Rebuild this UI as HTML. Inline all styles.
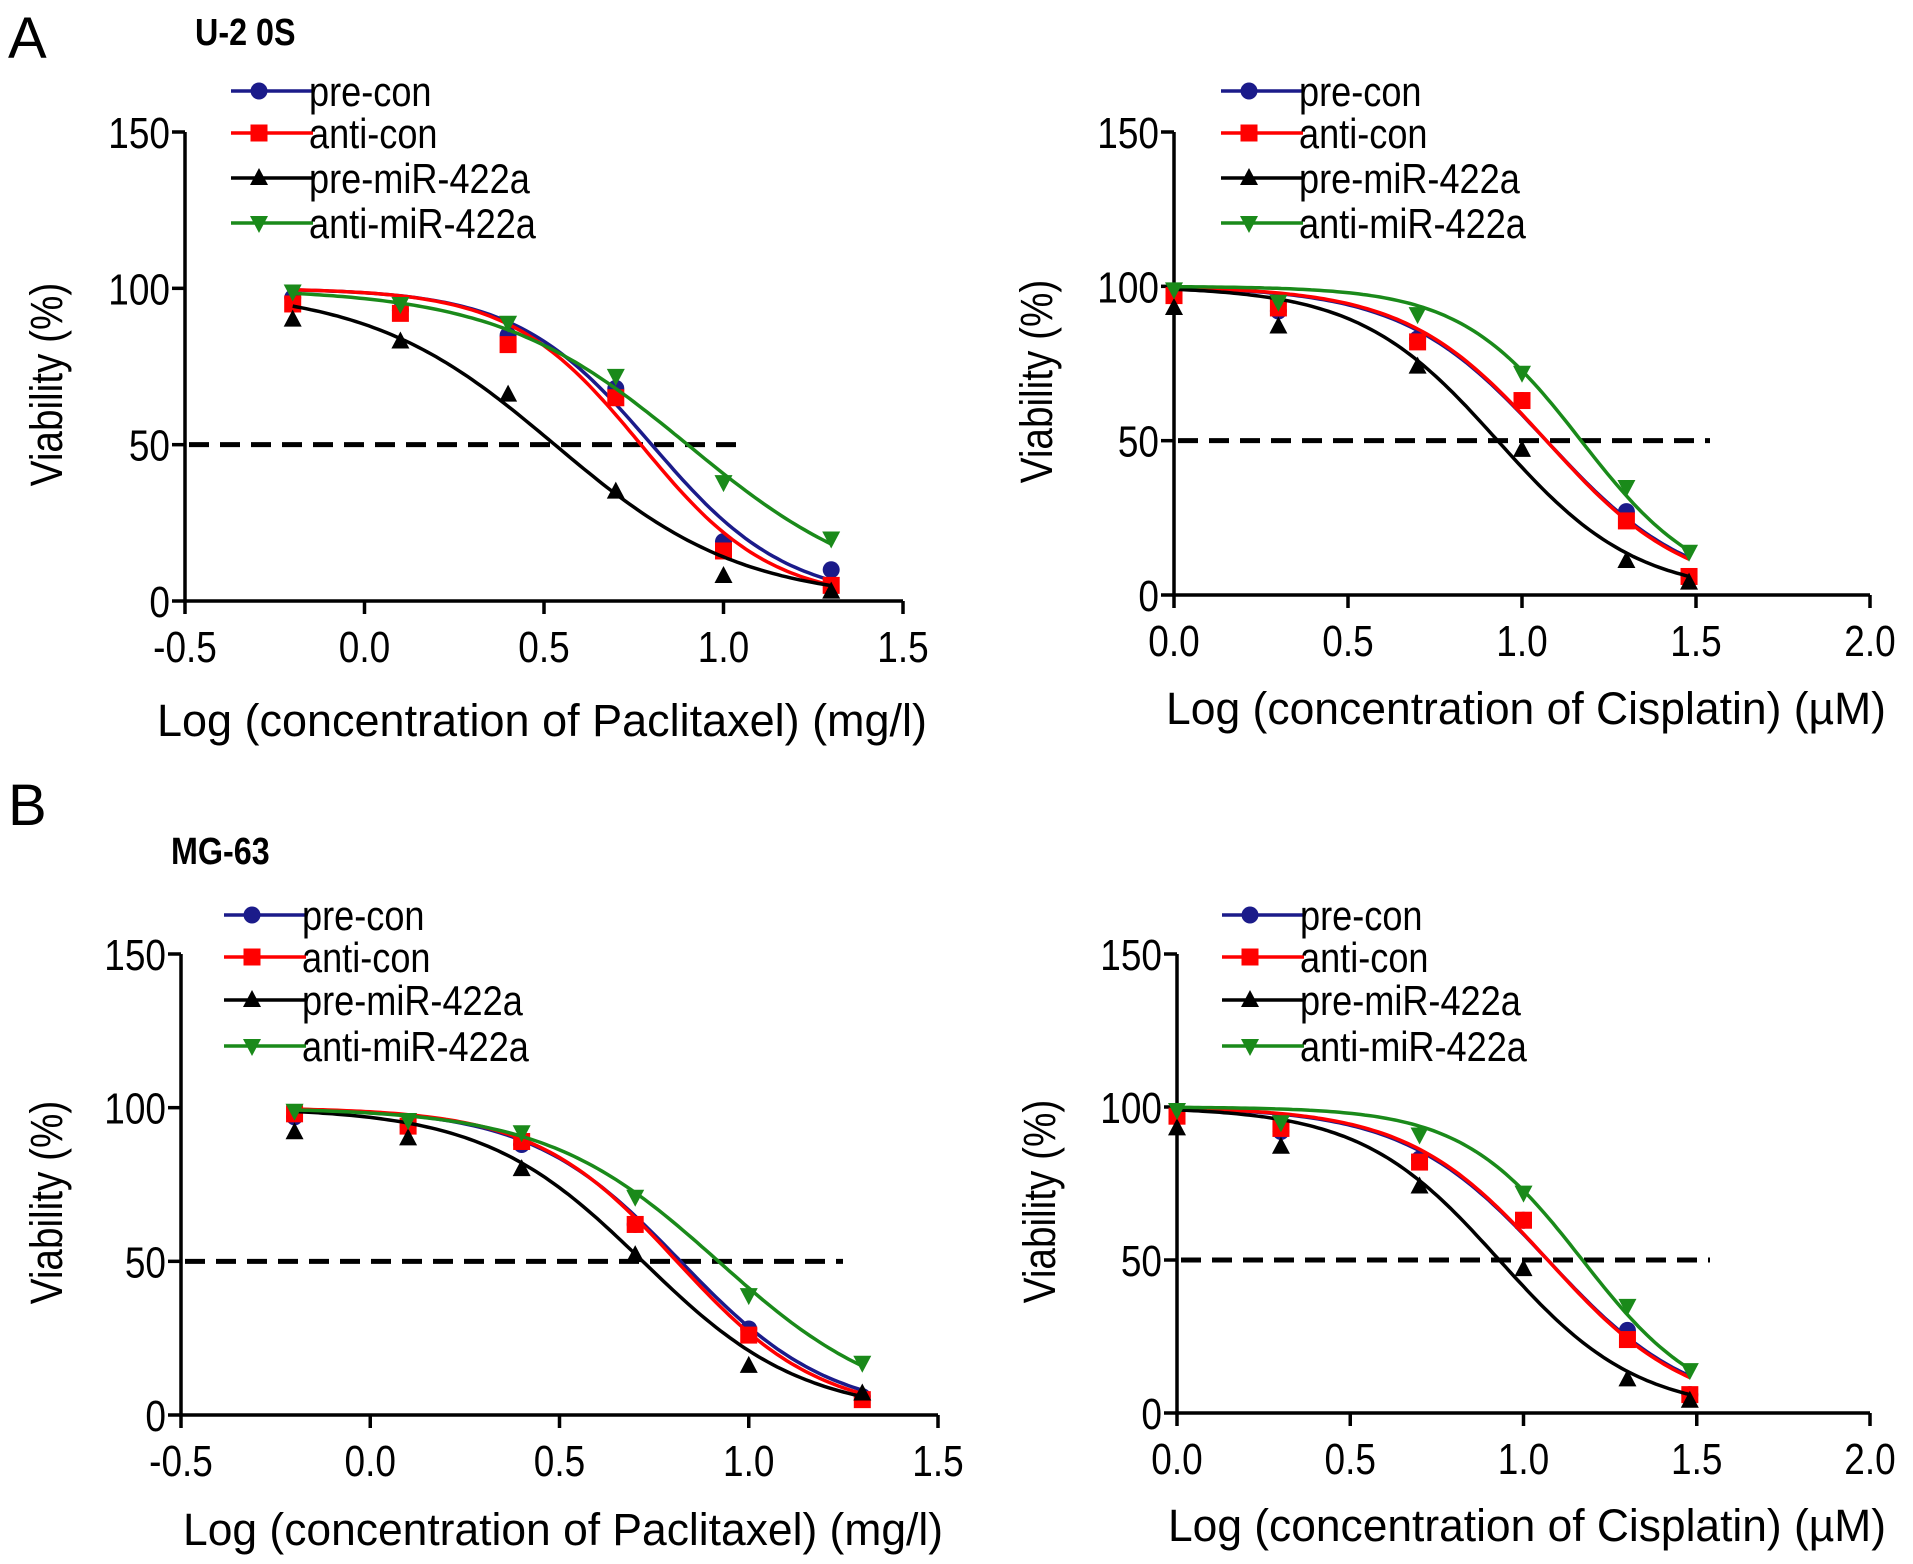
<!DOCTYPE html>
<html><head><meta charset="utf-8"><style>
html,body{margin:0;padding:0;background:#fff}
svg{display:block;font-family:"Liberation Sans",Arial,sans-serif}
</style></head><body>
<svg id="fig" width="1913" height="1564" viewBox="0 0 1913 1564">
<text x="8" y="58" font-size="58">A</text>
<text id="t1" x="195" y="45" font-size="38" font-weight="bold">U-2 0S</text>
<text x="8" y="825" font-size="58">B</text>
<text id="t2" x="171" y="864" font-size="38" font-weight="bold">MG-63</text>
</svg>
<script>
const seriesNames=["pre-con","anti-con","pre-miR-422a","anti-miR-422a"];
const ptxX=[-0.2,0.1,0.4,0.7,1.0,1.3];
const cisX=[0,0.3,0.7,1.0,1.3,1.48];
const yTicks=[0,50,100,150];
const ptxTicks=[-0.5,0.0,0.5,1.0,1.5];
const cisTicks=[0.0,0.5,1.0,1.5,2.0];
// U-2OS paclitaxel
const a1PreCon=[97,93,85,68,19,10];
const a1AntiCon=[95,92,82,65,16,5];
const a1PreMiR=[90,83,66,35,8,3];
const a1AntiMiR=[99,95,89,72,38,20];
const a1LogIC50=[0.80,0.77,0.53,0.90];
const a1Hill=[2.3,2.4,1.67,1.63];
// U-2OS cisplatin
const a2PreCon=[97,92,83,63,27,6];
const a2AntiCon=[97,93,82,63,24,6];
const a2PreMiR=[93,87,74,47,11,4];
const a2AntiMiR=[99,95,91,72,35,14];
const a2LogIC50=[1.07,1.07,0.93,1.17];
const a2Hill=[2.1,2.15,2.17,2.5];
// MG-63 paclitaxel
const b1PreCon=[97,94,88,62,28,6];
const b1AntiCon=[98,94,89,62,26,5];
const b1PreMiR=[92,90,80,52,16,7];
const b1AntiMiR=[99,96,92,71,39,17];
const b1LogIC50=[0.82,0.81,0.72,0.92];
const b1Hill=[2.2,2.3,2.06,1.9];
// MG-63 cisplatin
const b2PreCon=[97,92,83,63,27,6];
const b2AntiCon=[97,93,82,63,24,6];
const b2PreMiR=[93,87,74,47,11,4];
const b2AntiMiR=[99,95,91,72,35,14];
const b2LogIC50=[1.07,1.07,0.93,1.17];
const b2Hill=[2.1,2.15,2.17,2.5];

const colors=["#1b1b8a","#ff0000","#000000","#1a8a1a"];
const markers=["circle","square","tri","itri"];
const NS="http://www.w3.org/2000/svg";
const svg=document.getElementById("fig");
function el(tag,attrs,parent){const e=document.createElementNS(NS,tag);for(const k in attrs)e.setAttribute(k,attrs[k]);(parent||svg).appendChild(e);return e;}
function condense(t,f){const L=t.getComputedTextLength();if(L>0){t.setAttribute("textLength",(L*f).toFixed(1));t.setAttribute("lengthAdjust","spacingAndGlyphs");}}
condense(document.getElementById("t1"),0.85);
condense(document.getElementById("t2"),0.85);
function marker(g,type,cx,cy,c){
  let m;
  if(type==="circle") m=el("circle",{cx:cx,cy:cy,r:8.5,fill:c},g);
  else if(type==="square") m=el("rect",{x:cx-8.5,y:cy-8.5,width:17,height:17,fill:c},g);
  else if(type==="tri") m=el("polygon",{points:`${cx},${cy-10} ${cx-9},${cy+7} ${cx+9},${cy+7}`,fill:c},g);
  else m=el("polygon",{points:`${cx},${cy+10} ${cx-9},${cy-7} ${cx+9},${cy-7}`,fill:c},g);
  return m;
}
function panel(cfg){
  const g=el("g",{});
  
  
  const xs=v=>cfg.x0+(v-cfg.xmin)/(cfg.xmax-cfg.xmin)*(cfg.x1-cfg.x0);
  const ys=v=>cfg.y0-(v/150)*(cfg.y0-cfg.y1);
  const ax=el("path",{d:`M${cfg.x0},${cfg.y1} V${cfg.y0} H${cfg.x1}`,stroke:"#000","stroke-width":3.5,fill:"none"},g);
  
  
  yTicks.forEach(t=>{
    el("line",{x1:cfg.x0-13,x2:cfg.x0,y1:ys(t),y2:ys(t),stroke:"#000","stroke-width":3.5},g);
    const tx=el("text",{x:cfg.x0-15,y:ys(t)+16,"font-size":44,"text-anchor":"end"},g);
    tx.textContent=t;
    
    
    condense(tx,0.84);
  });
  cfg.ticks.forEach(t=>{
    el("line",{x1:xs(t),x2:xs(t),y1:cfg.y0,y2:cfg.y0+13,stroke:"#000","stroke-width":3.5},g);
    const tx=el("text",{x:xs(t),y:cfg.y0+61,"font-size":44,"text-anchor":"middle"},g);
    tx.textContent=t.toFixed(1);
    
    
    condense(tx,0.84);
  });
  const yt=el("text",{x:0,y:0,"font-size":45,"text-anchor":"middle",transform:`translate(${cfg.ytx},${(cfg.y0+cfg.y1)/2+18}) rotate(-90)`},g);
  yt.textContent="Viability (%)";
  
  
  condense(yt,0.86);
  const xt=el("text",{x:cfg.xtx,y:cfg.xty,"font-size":45,"text-anchor":"middle",textLength:cfg.xtlen,lengthAdjust:"spacingAndGlyphs"},g);
  xt.textContent=cfg.xtitle;
  
  
  const dl=el("line",{x1:cfg.x0+4,x2:cfg.dashEnd,y1:ys(50),y2:ys(50),stroke:"#000","stroke-width":5,"stroke-dasharray":"20,11"},g);
  
  
  cfg.series.forEach((vals,i)=>{
    const sg=el("g",{},g);
    
    
    let d="";
    const xa=cfg.xv[0],xb=cfg.xv[cfg.xv.length-1];
    for(let k=0;k<=120;k++){
      const xv=xa+(xb-xa)*k/120;
      const yv=100/(1+Math.pow(10,cfg.hill[i]*(xv-cfg.ic50[i])));
      d+=(k?"L":"M")+xs(xv).toFixed(1)+","+ys(yv).toFixed(1);
    }
    const cp=el("path",{d:d,stroke:colors[i],"stroke-width":3.5,fill:"none"},sg);
    
    
    vals.forEach((v,j)=>{
      const m=marker(sg,markers[i],xs(cfg.xv[j]),ys(v),colors[i]);
      
      
    });
  });
  const lg=el("g",{},g);
  
  
  seriesNames.forEach((n,i)=>{
    const y=cfg.legY[i];
    const eg=el("g",{},lg);
    
    
    el("line",{x1:cfg.legX,x2:cfg.legX+82,y1:y,y2:y,stroke:colors[i],"stroke-width":3.5},eg);
    marker(eg,markers[i],cfg.legX+28,y,colors[i]);
    const t=el("text",{x:cfg.legX+78,y:y+15,"font-size":42},eg);
    t.textContent=n;
    condense(t,0.86);
  });
}
panel({name:"chart-u2os-paclitaxel",x0:185,x1:903,y0:601,y1:132,xmin:-0.5,xmax:1.5,ticks:ptxTicks,xv:ptxX,
  series:[a1PreCon,a1AntiCon,a1PreMiR,a1AntiMiR],ic50:a1LogIC50,hill:a1Hill,dashEnd:740,
  ytx:62,xtx:542,xty:736,xtlen:770,xtitle:"Log (concentration of Paclitaxel)  (mg/l)",legX:231,legY:[91,133,178,223]});
panel({name:"chart-u2os-cisplatin",x0:1174,x1:1870,y0:595,y1:132,xmin:0,xmax:2,ticks:cisTicks,xv:cisX,
  series:[a2PreCon,a2AntiCon,a2PreMiR,a2AntiMiR],ic50:a2LogIC50,hill:a2Hill,dashEnd:1710,
  ytx:1052,xtx:1526,xty:724,xtlen:720,xtitle:"Log (concentration of Cisplatin)  (µM)",legX:1221,legY:[91,133,178,223]});
panel({name:"chart-mg63-paclitaxel",x0:181,x1:938,y0:1415,y1:954,xmin:-0.5,xmax:1.5,ticks:ptxTicks,xv:ptxX,
  series:[b1PreCon,b1AntiCon,b1PreMiR,b1AntiMiR],ic50:b1LogIC50,hill:b1Hill,dashEnd:843,
  ytx:62,xtx:563,xty:1545,xtlen:760,xtitle:"Log (concentration of Paclitaxel)  (mg/l)",legX:224,legY:[915,957,1000,1046]});
panel({name:"chart-mg63-cisplatin",x0:1177,x1:1870,y0:1413,y1:954,xmin:0,xmax:2,ticks:cisTicks,xv:cisX,
  series:[b2PreCon,b2AntiCon,b2PreMiR,b2AntiMiR],ic50:b2LogIC50,hill:b2Hill,dashEnd:1710,
  ytx:1055,xtx:1527,xty:1541,xtlen:718,xtitle:"Log (concentration of Cisplatin)  (µM)",legX:1222,legY:[915,957,1000,1046]});
</script>
</body></html>
